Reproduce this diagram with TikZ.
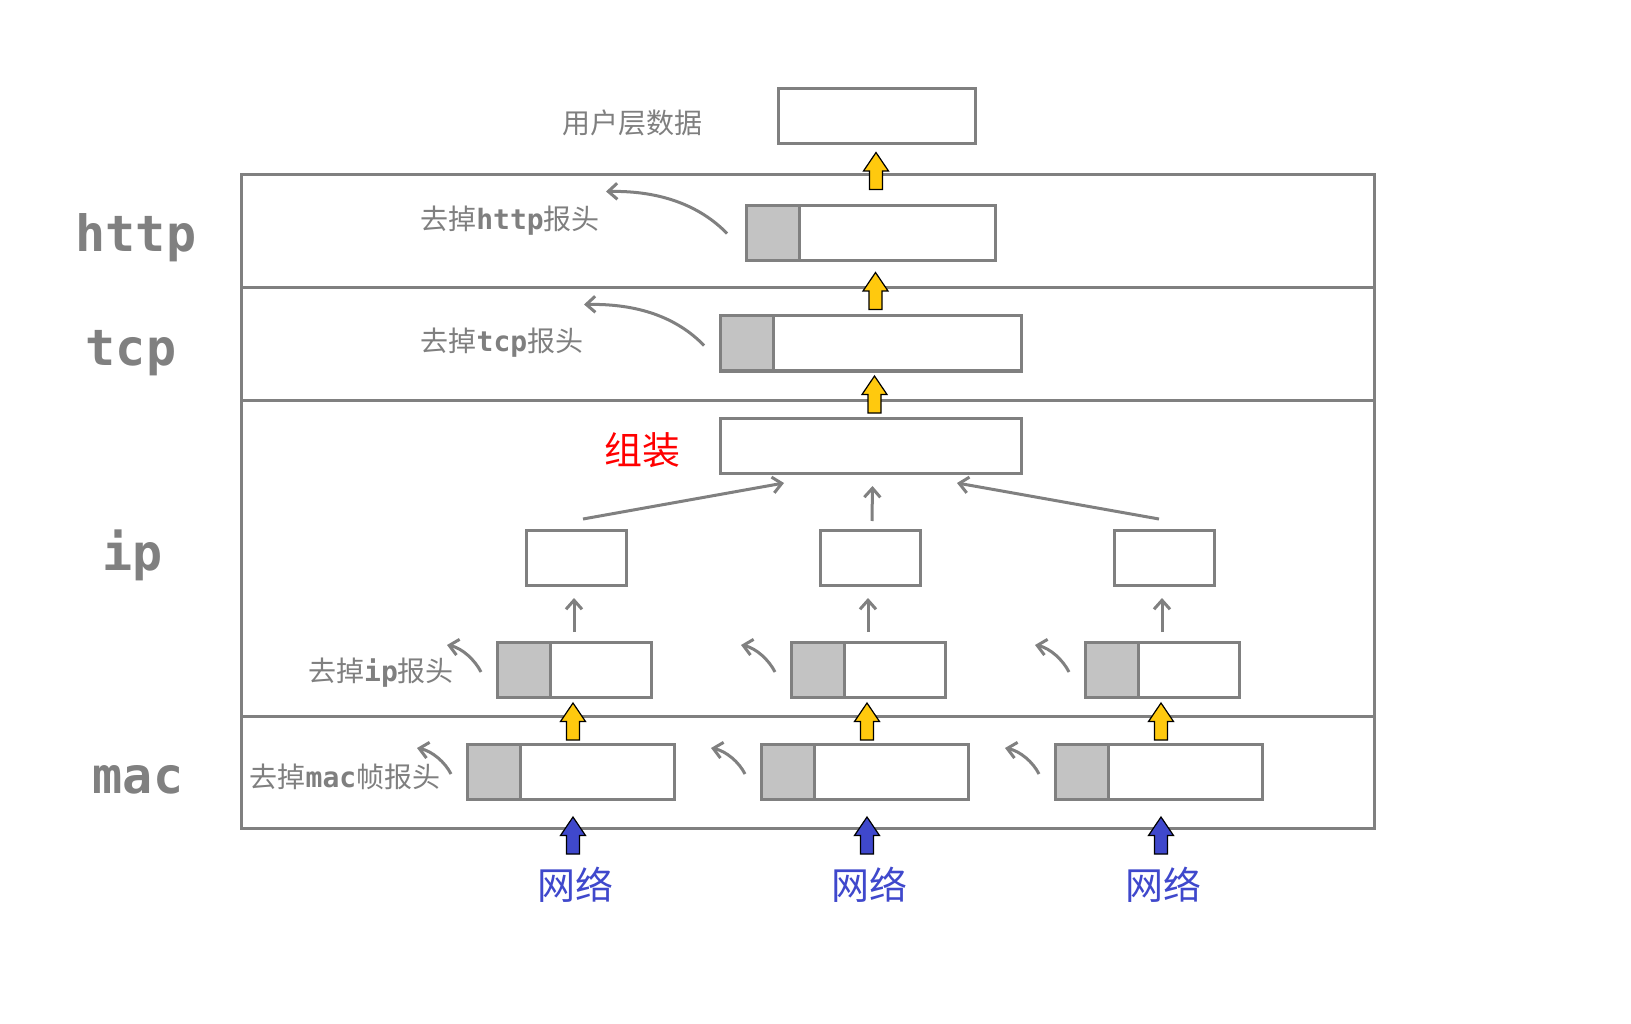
\documentclass[tikz,border=0pt]{standalone}
\usepackage{fontspec}
\setmainfont{Noto Sans CJK SC}
\newfontfamily\cjk{Noto Sans CJK SC}
\newfontfamily\monof{DejaVu Sans Mono}
\usetikzlibrary{arrows.meta,calc}
\definecolor{lg}{HTML}{808080}
\definecolor{hg}{HTML}{C3C3C3}
\definecolor{ay}{HTML}{FFC90E}
\definecolor{ab}{HTML}{3F48CC}
\definecolor{tg}{HTML}{7F7F7F}
\newcommand\fatup[3]{\filldraw[fill=#3,draw=black,line width=1.2pt,line join=miter] (#1,#2) -- ++(12.5,18.5) -- ++(-6,0) -- ++(0,18.5) -- ++(-13,0) -- ++(0,-18.5) -- ++(-6,0) -- cycle;}
\begin{document}
\begin{tikzpicture}[x=1pt,y=-1pt,
 band/.style={draw=lg,line width=3pt,inner sep=0,outer sep=0,anchor=north west,minimum width=1133pt},
 box/.style={draw=lg,line width=3pt,fill=white,inner sep=0,outer sep=0,anchor=north west,minimum height=55pt},
 hdr/.style={draw=lg,line width=3pt,fill=hg,inner sep=0,outer sep=0,anchor=north west,minimum height=55pt,minimum width=53pt},
 lbl/.style={text=lg,font=\monof\bfseries\fontsize{50}{50}\selectfont,anchor=base,inner sep=0},
 note/.style={text=tg,font=\cjk\fontsize{28}{30}\selectfont,inner sep=0},
 big/.style={font=\cjk\fontsize{38}{40}\selectfont,inner sep=0},
 thinarr/.style={draw=lg,line width=3pt,-{Straight Barb[length=9pt,width=16pt]}},
]
\useasboundingbox (0,0) rectangle (1631,1024);
\fill[white] (0,0) rectangle (1631,1024);
% layer bands
\node[band,minimum height=113pt] (bhttp) at (241,175) {};
\node[band,minimum height=112pt] (btcp) at (241,288) {};
\node[band,minimum height=316pt] (bip) at (241,400) {};
\node[band,minimum height=112pt] (bmac) at (241,716) {};
% layer labels
\node[lbl] (lhttp) at (136,252) {http};
\node[lbl] (ltcp) at (131,365.5) {tcp};
\node[lbl] (lip) at (133,570) {ip};
\node[lbl] (lmac) at (138,793) {mac};
% boxes
\node[box,minimum width=197pt] (user) at (778,89) {};
\node[box,minimum width=249pt] (http) at (746,206) {};
\node[hdr] (httph) at (746,206) {};
\node[box,minimum width=301pt] (tcp) at (720,316) {};
\node[hdr] (tcph) at (720,316) {};
\node[box,minimum width=301pt] (asm) at (720,418) {};
\foreach \i/\x in {1/526,2/820,3/1114}{\node[box,minimum width=100pt] (frag\i) at (\x,530) {};}
\foreach \i/\x in {1/497,2/791,3/1085}{\node[box,minimum width=154pt] (ip\i) at (\x,642) {};\node[hdr] (iph\i) at (\x,642) {};}
\foreach \i/\x in {1/467,2/761,3/1055}{\node[box,minimum width=207pt] (mac\i) at (\x,744) {};\node[hdr] (mach\i) at (\x,744) {};}
% texts
\node[note] (tuser) at (632,123) {用户层数据};
\node[note] (thttp) at (510,221) {去掉{\monof\bfseries http}报头};
\node[note] (ttcp) at (502,343) {去掉{\monof\bfseries tcp}报头};
\node[note] (tip) at (381,673) {去掉{\monof\bfseries ip}报头};
\node[note] (tmac) at (345,777) {去掉{\monof\bfseries mac}帧报头};
\node[big,text=red] (tasm) at (642,450) {组装};
\foreach \i/\x in {1/575,2/869,3/1163}{\node[big,text=ab] (net\i) at (\x,885) {网络};}
% fat arrows
\fatup{876}{152.5}{ay}
\fatup{875.5}{272.5}{ay}
\fatup{874.5}{376}{ay}
\foreach \x in {573,867,1161}{\fatup{\x}{703}{ay}\fatup{\x}{817}{ab}}
% assembly arrows
\draw[thinarr] ($(frag1.north)+(7,-11)$) -- ($(asm.south west)+(64,10)$);
\draw[thinarr] ($(frag2.north)+(2,-9)$) -- ($(asm.south)+(2,13)$);
\draw[thinarr] ($(frag3.north)+(-5,-11)$) -- ($(asm.south east)+(-64,10)$);
\foreach \i in {1,2,3}{\draw[thinarr] ($(ip\i.north |- frag\i.south)+(0,47)$) -- ($(ip\i.north |- frag\i.south)+(0,13)$);}
% header removal curves
\coordinate (hs) at ($(http.west)+(-19,0)$);
\coordinate (ht) at ($(http.west)+(-140,-42)$);
\draw[thinarr] (hs) .. controls ($(hs)+(-27,-28)$) and ($(ht)+(54,-1)$) .. (ht);
\coordinate (cs) at ($(tcp.west)+(-16,2)$);
\coordinate (ct) at ($(tcp.west)+(-136,-39)$);
\draw[thinarr] (cs) .. controls ($(cs)+(-27,-28)$) and ($(ct)+(54,-1)$) .. (ct);
\foreach \i in {1,2,3}{
 \coordinate (is\i) at ($(ip\i.north west)+(-16,30)$);
 \coordinate (it\i) at ($(ip\i.north west)+(-50,3)$);
 \draw[thinarr] (is\i) .. controls ($(is\i)+(-6,-12)$) and ($(it\i)+(15,3)$) .. (it\i);
 \coordinate (ms\i) at ($(mac\i.north west)+(-16,30)$);
 \coordinate (mt\i) at ($(mac\i.north west)+(-50,4)$);
 \draw[thinarr] (ms\i) .. controls ($(ms\i)+(-6,-12)$) and ($(mt\i)+(15,3)$) .. (mt\i);
}
\end{tikzpicture}
\end{document}
